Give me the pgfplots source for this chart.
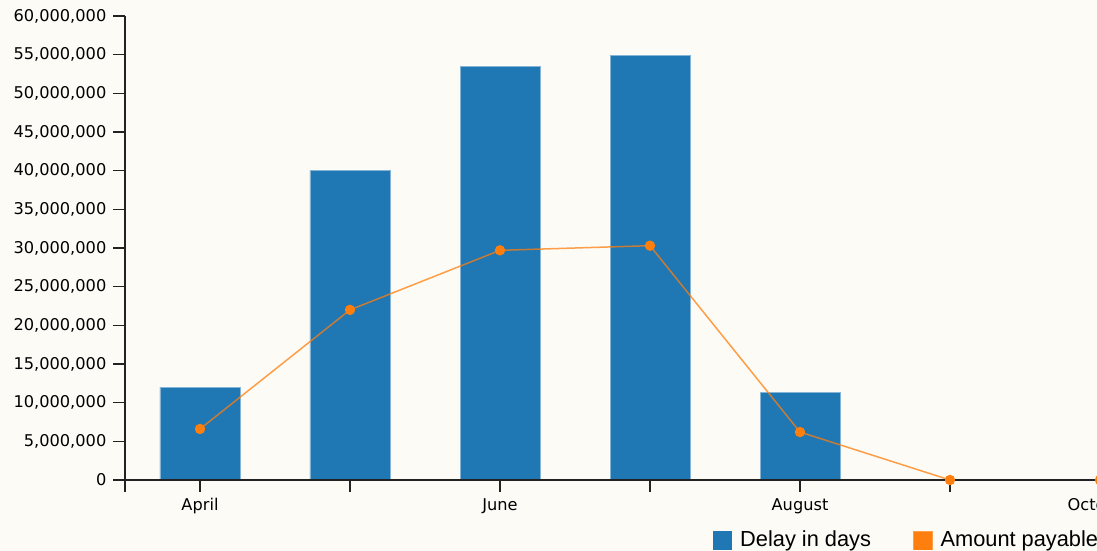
\documentclass[border=0pt]{standalone}
\usepackage{fontspec}
\setmainfont{Liberation Sans}
\newfontfamily\tickfont{DejaVu Sans}
\usepackage{pgfplots}
\pgfplotsset{compat=1.18}
\definecolor{cblue}{HTML}{1F77B4}
\definecolor{corange}{HTML}{FF7F0E}
\definecolor{bg}{HTML}{FCFBF6}
\definecolor{axc}{HTML}{222222}

\begin{document}
\begin{tikzpicture}
% page background, 1px = 0.5pt
\fill[bg] (-62.5pt,-35.5pt) rectangle (486pt,240pt);
\begin{axis}[
    at={(0pt,0pt)}, anchor=south west,
    scale only axis, width=525pt, height=232pt,
    xmin=-0.5, xmax=6.5, ymin=0, ymax=60000000,
    axis x line*=bottom, axis y line*=left,
    axis line style={axc, line width=0.8pt, -},
    axis on top, clip=false,
    xtick={0,1,2,3,4,5,6},
    xticklabels={April,,June,,August,,October},
    extra x ticks={-0.5}, extra x tick labels={},
    ytick={0,5000000,10000000,15000000,20000000,25000000,30000000,35000000,40000000,45000000,50000000,55000000,60000000},
    scaled y ticks=false,
    yticklabel style={/pgf/number format/.cd, fixed, 1000 sep={,}},
    /pgf/number format/assume math mode=true,
    tick align=outside, major tick length=5.8pt,
    tick style={axc, line width=0.8pt},
    ticklabel style={font=\tickfont\fontsize{8.1}{9}\selectfont, text=black},
    legend style={at={(0.56,-0.1304)}, anchor=west, draw=none, fill=none,
        legend columns=-1, inner sep=0pt,
        font=\fontsize{10.9}{12}\selectfont,
        nodes={inner sep=0pt},
        /tikz/every odd column/.append style={column sep=4pt},
        /tikz/every even column/.append style={column sep=21pt}},
]
\addplot[ybar, bar width=40pt, fill=cblue, draw=cblue!55!white, line width=0.4pt,
    legend image code/.code={\fill[cblue] (0pt,-4.5pt) rectangle (9pt,4.5pt);}]
    coordinates {(0,12000000) (1,40000000) (2,53500000) (3,54900000) (4,11300000)};
\addlegendentry{Delay in days}
\addplot[corange, line width=0.75pt, draw opacity=0.75, mark=*, mark size=2.2pt,
    mark options={solid, draw opacity=1, fill=corange, draw=corange},
    legend image code/.code={\fill[corange] (0pt,-4.5pt) rectangle (9pt,4.5pt);}]
    coordinates {(0,6600000) (1,22000000) (2,29700000) (3,30300000) (4,6200000) (5,0) (6,0)};
\addlegendentry{Amount payable}
\end{axis}
\pgfresetboundingbox
\path (-62.5pt,-35.5pt) rectangle (486pt,240pt);
\end{tikzpicture}
\end{document}
